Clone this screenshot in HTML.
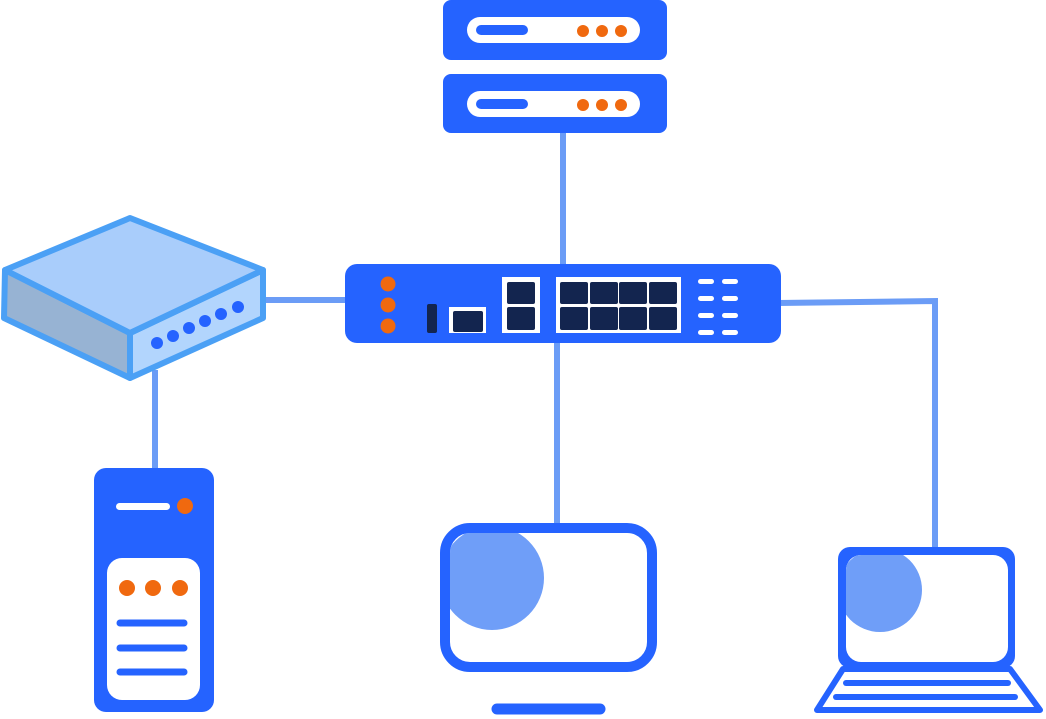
<!DOCTYPE html>
<html><head><meta charset="utf-8"><style>html,body{margin:0;padding:0;background:#fff}svg{display:block}</style></head>
<body>
<svg width="1046" height="719" viewBox="0 0 1046 719" xmlns="http://www.w3.org/2000/svg">
<defs>
<clipPath id="mon"><rect x="450" y="533" width="197" height="129" rx="20"/></clipPath>
<clipPath id="lap"><rect x="846" y="555" width="162" height="107" rx="15"/></clipPath>
</defs>
<g stroke="#6b9cf6" stroke-width="6" fill="none">
<line x1="563" y1="130" x2="563" y2="268"/>
<line x1="557" y1="340" x2="557" y2="530"/>
<polyline points="778,303 935,301 935,550"/>
<line x1="258" y1="300" x2="348" y2="300"/>
<line x1="155" y1="370" x2="155" y2="472"/>
</g>
<!-- servers -->
<rect x="443" y="0" width="224" height="60" rx="8" fill="#2563ff"/>
<rect x="467" y="17" width="173" height="26" rx="13" fill="#fff"/>
<rect x="476" y="25" width="52" height="10" rx="5" fill="#2563ff"/>
<g fill="#f0690f"><circle cx="583" cy="31" r="6"/><circle cx="602" cy="31" r="6"/><circle cx="621" cy="31" r="6"/></g>
<rect x="443" y="74" width="224" height="59" rx="8" fill="#2563ff"/>
<rect x="467" y="91" width="173" height="26" rx="13" fill="#fff"/>
<rect x="476" y="99" width="52" height="10" rx="5" fill="#2563ff"/>
<g fill="#f0690f"><circle cx="583" cy="105" r="6"/><circle cx="602" cy="105" r="6"/><circle cx="621" cy="105" r="6"/></g>
<!-- switch -->
<rect x="345" y="264" width="436" height="79" rx="12" fill="#2563ff"/>
<g fill="#f0690f"><circle cx="388" cy="284" r="7.5"/><circle cx="388" cy="305" r="7.5"/><circle cx="388" cy="326" r="7.5"/></g>
<rect x="427" y="304" width="10" height="29" rx="2" fill="#13254f"/>
<rect x="449" y="307" width="37" height="26" fill="#fff"/>
<rect x="453" y="311" width="30" height="21" rx="2" fill="#13254f"/>
<rect x="502" y="277" width="38" height="56" fill="#fff"/>
<rect x="507" y="282" width="28" height="22" rx="2" fill="#13254f"/>
<rect x="507" y="307" width="28" height="23" rx="2" fill="#13254f"/>
<rect x="556" y="277" width="125" height="56" fill="#fff"/>
<g fill="#13254f">
<rect x="560" y="282" width="28" height="22" rx="2"/><rect x="590" y="282" width="28" height="22" rx="2"/><rect x="619" y="282" width="28" height="22" rx="2"/><rect x="649" y="282" width="28" height="22" rx="2"/>
<rect x="560" y="307" width="28" height="23" rx="2"/><rect x="590" y="307" width="28" height="23" rx="2"/><rect x="619" y="307" width="28" height="23" rx="2"/><rect x="649" y="307" width="28" height="23" rx="2"/>
</g>
<g fill="#fff">
<rect x="698" y="279" width="16" height="5" rx="2.5"/><rect x="722" y="279" width="16" height="5" rx="2.5"/>
<rect x="698" y="296" width="16" height="5" rx="2.5"/><rect x="722" y="296" width="16" height="5" rx="2.5"/>
<rect x="698" y="313" width="16" height="5" rx="2.5"/><rect x="722" y="313" width="16" height="5" rx="2.5"/>
<rect x="698" y="330" width="16" height="5" rx="2.5"/><rect x="722" y="330" width="16" height="5" rx="2.5"/>
</g>
<!-- router -->
<g stroke="#4ba0f5" stroke-width="6" stroke-linejoin="round">
<polygon points="5,270 130,333 130,378 4,318" fill="#97b3d3"/>
<polygon points="130,333 263,270 263,318 130,378" fill="#b2d5fd"/>
<polygon points="5,270 130,218 263,270 130,333" fill="#a9cdfb"/>
</g>
<g fill="#2563ff"><circle cx="157" cy="343" r="6"/><circle cx="173" cy="336" r="6"/><circle cx="189" cy="328" r="6"/><circle cx="205" cy="321" r="6"/><circle cx="221" cy="314" r="6"/><circle cx="238" cy="307" r="6"/></g>
<!-- tower -->
<rect x="94" y="468" width="120" height="244" rx="12" fill="#2563ff"/>
<rect x="116" y="503" width="54" height="7" rx="3.5" fill="#fff"/>
<circle cx="185" cy="506" r="8" fill="#f0690f"/>
<rect x="107" y="558" width="93" height="142" rx="15" fill="#fff"/>
<g fill="#f0690f"><circle cx="127" cy="588" r="8"/><circle cx="153" cy="588" r="8"/><circle cx="180" cy="588" r="8"/></g>
<g stroke="#2563ff" stroke-width="7" stroke-linecap="round"><line x1="120" y1="623" x2="184" y2="623"/><line x1="120" y1="648" x2="184" y2="648"/><line x1="120" y1="672" x2="184" y2="672"/></g>
<!-- monitor -->
<circle cx="492" cy="578" r="52" fill="#6f9ef8" clip-path="url(#mon)"/>
<rect x="445" y="528" width="207" height="139" rx="25" fill="none" stroke="#2563ff" stroke-width="10"/>
<line x1="497" y1="709" x2="600" y2="709" stroke="#2563ff" stroke-width="11" stroke-linecap="round"/>
<!-- laptop -->
<rect x="838" y="547" width="177" height="121" rx="12" fill="#2563ff"/>
<rect x="846" y="555" width="162" height="107" rx="15" fill="#fff"/>
<circle cx="880" cy="590" r="42" fill="#6f9ef8" clip-path="url(#lap)"/>
<polygon points="843,669 1010,669 1040,710 817,710" fill="#fff" stroke="#2563ff" stroke-width="6" stroke-linejoin="round"/>
<g stroke="#2563ff" stroke-width="6" stroke-linecap="round"><line x1="846" y1="683" x2="1008" y2="683"/><line x1="836" y1="697" x2="1015" y2="697"/></g>
</svg>
</body></html>
